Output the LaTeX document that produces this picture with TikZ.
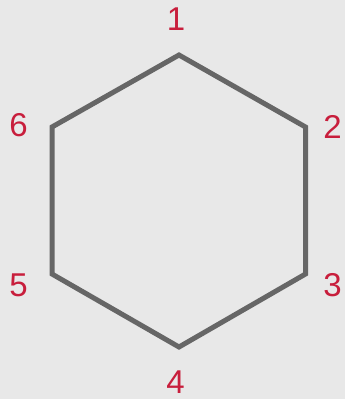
\documentclass[tikz,border=0pt]{standalone}
\usepackage{fontspec}
\setmainfont{Liberation Sans}
\definecolor{bgc}{RGB}{232,232,232}
\definecolor{edgec}{RGB}{102,102,102}
\definecolor{labc}{RGB}{200,30,60}
\begin{document}
\begin{tikzpicture}[x=1pt,y=-1pt,
  lab/.style={text=labc,font=\fontsize{33}{33}\selectfont,inner sep=0pt,anchor=center},
  edge/.style={draw=edgec,line width=5pt,line join=miter}]
\fill[bgc] (0,0) rectangle (345,399);
\useasboundingbox (0,0) rectangle (345,399);
\coordinate (v1) at (179,55);
\coordinate (v2) at (305.5,127);
\coordinate (v3) at (305.5,274);
\coordinate (v4) at (179,347);
\coordinate (v5) at (52,274);
\coordinate (v6) at (52,127);
\draw[edge] (v1) -- (v2) -- (v3) -- (v4) -- (v5) -- (v6) -- cycle;
\node[lab] (l1) at (176,19.5) {1};
\node[lab] (l2) at (332.5,126.5) {2};
\node[lab] (l3) at (332.5,285.5) {3};
\node[lab] (l4) at (175.5,382) {4};
\node[lab] (l5) at (18.5,285) {5};
\node[lab] (l6) at (18.5,125) {6};
\end{tikzpicture}
\end{document}
